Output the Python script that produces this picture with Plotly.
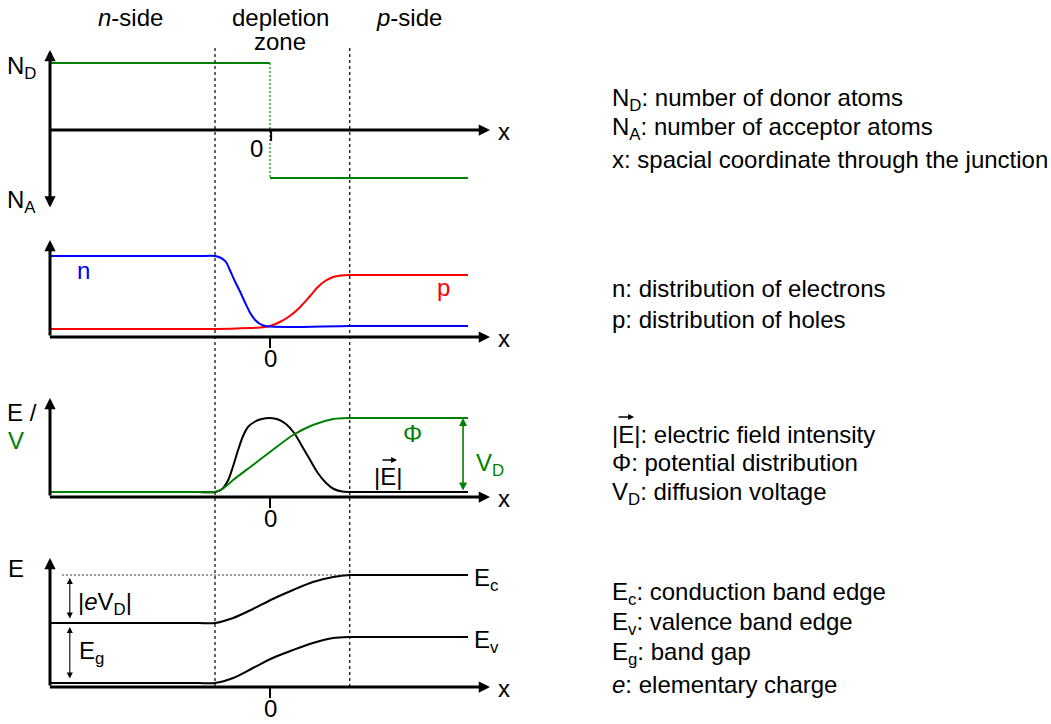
import plotly.graph_objects as go

W, H = 1051, 724

# ---- junction coordinate (0 = junction); depletion zone edges ----
X_START, X_END = -4.0, 3.6
X_N_EDGE, X_P_EDGE = -1.0, 1.45

# ---- panel 1: doping profile ----
N_D_level = 1.34
N_A_level = -0.96

# ---- panel 2: carrier distributions ----
n_x = [-4.0, -2.5, -1.3, -1.0, -0.89, -0.8, -0.73, -0.64, -0.55, -0.45, -0.36, -0.27, -0.18,
       -0.09, 0.0, 0.4, 1.45, 2.5, 3.6]
n_y = [1.62, 1.62, 1.62, 1.62, 1.58, 1.50, 1.34, 1.12, 0.92, 0.68, 0.48, 0.34, 0.26,
       0.22, 0.21, 0.20, 0.22, 0.22, 0.22]
p_x = [-4.0, -2.5, -1.0, -0.36, -0.18, 0.0, 0.18, 0.36, 0.55, 0.73, 0.87, 1.0, 1.15, 1.29,
       1.45, 1.75, 2.5, 3.6]
p_y = [0.16, 0.16, 0.16, 0.18, 0.19, 0.22, 0.30, 0.42, 0.60, 0.82, 1.00, 1.12, 1.20, 1.23,
       1.24, 1.24, 1.24, 1.24]

# ---- panel 3: field magnitude and potential ----
e_x = [-1.3, -1.0, -0.87, -0.76, -0.67, -0.58, -0.49, -0.4, -0.27, -0.15, 0.0, 0.15, 0.29,
       0.44, 0.58, 0.73, 0.87, 1.02, 1.16, 1.31, 1.45, 1.75, 2.5, 3.6]
e_y = [0.10, 0.10, 0.16, 0.34, 0.62, 0.94, 1.22, 1.40, 1.51, 1.56, 1.58, 1.55, 1.46,
       1.28, 1.02, 0.74, 0.48, 0.28, 0.16, 0.11, 0.10, 0.10, 0.10, 0.10]
phi_x = [-4.0, -2.5, -1.3, -1.0, -0.87, -0.67, -0.31, 0.0, 0.42, 0.78, 1.15, 1.45, 1.75, 2.5, 3.6]
phi_y = [0.10, 0.10, 0.10, 0.10, 0.16, 0.34, 0.64, 0.90, 1.24, 1.44, 1.56, 1.58, 1.58, 1.58, 1.58]
V_D_top, V_D_bottom = 1.58, 0.10

# ---- panel 4: band edges ----
band_x = [-4.0, -2.5, -1.3, -1.0, -0.67, -0.31, 0.05, 0.42, 0.78, 1.15, 1.45, 1.75, 2.5, 3.6]
Ec_y = [1.28, 1.28, 1.28, 1.28, 1.38, 1.56, 1.76, 1.94, 2.10, 2.20, 2.24, 2.24, 2.24, 2.24]
Ev_y = [0.08, 0.08, 0.08, 0.08, 0.18, 0.38, 0.58, 0.74, 0.88, 0.98, 1.00, 1.00, 1.00, 1.00]

# side texts
header_labels = ["<i>n</i>-side", "depletion", "zone", "<i>p</i>-side"]
legend_lines = [
    ("N<sub>D</sub>: number of donor atoms", 99),
    ("N<sub>A</sub>: number of acceptor atoms", 129),
    ("x: spacial coordinate through the junction", 159),
    ("n: distribution of electrons", 288),
    ("p: distribution of holes", 319),
    ("|E|: electric field intensity", 434),
    ("Φ: potential distribution", 463),
    ("V<sub>D</sub>: diffusion voltage", 493),
    ("E<sub>c</sub>: conduction band edge", 593),
    ("E<sub>v</sub>: valence band edge", 623),
    ("E<sub>g</sub>: band gap", 653),
    ("<i>e</i>: elementary charge", 684),
]

# ---- layout geometry (pixels) ----
X0_PX, X_SCALE = 270.0, 55.0          # junction position, px per unit
Y_SCALE = 50.0                        # px per unit on every panel
baselines = [130, 337, 497, 687]      # x-axis pixel row of each panel

GREEN, BLUE, RED, BLACK = "#008000", "#0000ff", "#ff0000", "#000000"
FONT = "Liberation Sans"
FS = 24

fig = go.Figure()

layout_axes = {}
for i, b in enumerate(baselines):
    key = "yaxis" if i == 0 else f"yaxis{i + 1}"
    ax = dict(range=[(b - H) / Y_SCALE, b / Y_SCALE], domain=[0, 1], visible=False,
              fixedrange=True)
    if i > 0:
        ax["overlaying"] = "y"
    layout_axes[key] = ax

x_range = [-X0_PX / X_SCALE, (W - X0_PX) / X_SCALE]


def line(xs, ys, yref, color, width=2.0, dash=None, shape="spline"):
    fig.add_trace(go.Scatter(
        x=xs, y=ys, xaxis="x", yaxis=yref, mode="lines",
        line=dict(color=color, width=width, dash=dash, shape=shape, smoothing=0.8),
        hoverinfo="skip", showlegend=False, cliponaxis=False))


annotations = []


def arrow(x0, y0, x1, y1, yref, color=BLACK, width=3.0, size=0.75, both=False, head=2):
    annotations.append(dict(
        x=x1, y=y1, ax=x0, ay=y0, xref="x", yref=yref, axref="x", ayref=yref,
        text="", showarrow=True, arrowhead=head, startarrowhead=head,
        arrowsize=size, startarrowsize=size, arrowwidth=width, arrowcolor=color,
        arrowside="end+start" if both else "end"))


def label(text, x_px, y_px, color=BLACK, size=FS, xanchor="center"):
    annotations.append(dict(
        text=text, x=x_px / W, y=1 - y_px / H, xref="paper", yref="paper",
        xanchor=xanchor, yanchor="middle", showarrow=False,
        font=dict(family=FONT, size=size, color=color)))


# depletion zone boundaries through all panels
for xe in (X_N_EDGE, X_P_EDGE):
    fig.add_shape(type="line", xref="x", yref="paper", x0=xe, x1=xe,
                  y0=1 - 687 / H, y1=1 - 45 / H,
                  line=dict(color=BLACK, width=1.2, dash="3px,3px"))

# ---- panel 1 ----
line([X_START, 0.0], [N_D_level, N_D_level], "y", GREEN, shape="linear")
line([0.0, 0.0], [N_D_level, N_A_level], "y", GREEN, width=1.2, dash="2px,2px", shape="linear")
line([0.0, X_END], [N_A_level, N_A_level], "y", GREEN, shape="linear")
arrow(X_START, -1.58, X_START, 1.6, "y", both=True)
arrow(X_START - 0.03, 0, 4.0, 0, "y")
line([0.02, 0.02], [0, -0.22], "y", BLACK, width=2, shape="linear")

# ---- panel 2 ----
line(p_x, p_y, "y2", RED)
line(n_x, n_y, "y2", BLUE)
arrow(X_START, 0, X_START, 1.94, "y2")
arrow(X_START - 0.03, 0, 4.0, 0, "y2")
line([0, 0], [0, -0.22], "y2", BLACK, width=2, shape="linear")

# ---- panel 3 ----
line(e_x, e_y, "y3", BLACK)
line(phi_x, phi_y, "y3", GREEN)
arrow(3.51, V_D_bottom, 3.51, V_D_top, "y3", color=GREEN, width=1.6, size=1.0, both=True)
arrow(X_START, 0, X_START, 1.98, "y3")
arrow(X_START - 0.03, 0, 4.0, 0, "y3")
line([0, 0], [0, -0.22], "y3", BLACK, width=2, shape="linear")

# ---- panel 4 ----
fig.add_shape(type="line", xref="x", yref="y4", x0=-3.78, x1=X_P_EDGE,
              y0=Ec_y[-1], y1=Ec_y[-1], line=dict(color="#333333", width=1, dash="2px,2px"))
line(band_x, Ec_y, "y4", BLACK)
line(band_x, Ev_y, "y4", BLACK)
arrow(-3.64, 1.34, -3.64, 2.18, "y4", width=1.1, size=1.1, both=True)
arrow(-3.64, 0.14, -3.64, 1.20, "y4", width=1.1, size=1.1, both=True)
arrow(X_START, 0, X_START, 2.58, "y4")
arrow(X_START - 0.03, 0, 4.0, 0, "y4")
line([0, 0], [0, -0.22], "y4", BLACK, width=2, shape="linear")

# ---- diagram labels ----
label(header_labels[0], 130, 17)
label(header_labels[1], 280, 17)
label(header_labels[2], 280, 41)
label(header_labels[3], 409, 17)

label("N<sub>D</sub>", 38, 67, xanchor="right")
label("N<sub>A</sub>", 38, 201, xanchor="right")
for b, zx in zip(baselines, [256, 270, 270, 270]):
    label("0", zx, b + 21 if b != 130 else 148)
    label("x", 504, b + 1)

label("n", 83, 270, color=BLUE)
label("p", 443, 287, color=RED)

label("E /", 22, 412)
label("V", 16, 440, color=GREEN)
label("Φ", 412, 433, color=GREEN)
label("V<sub>D</sub>", 474, 464, color=GREEN, xanchor="left")
label("|E|", 388, 476)
annotations.append(dict(x=397 / W, y=1 - 460 / H, xref="paper", yref="paper",
                        ax=-16, ay=0, text="", showarrow=True, arrowhead=2,
                        arrowsize=0.9, arrowwidth=1.3, arrowcolor=BLACK))

label("E", 16, 568)
label("|<i>e</i>V<sub>D</sub>|", 76, 603, xanchor="left")
label("E<sub>g</sub>", 77, 652, xanchor="left")
label("E<sub>c</sub>", 472, 579, xanchor="left")
label("E<sub>v</sub>", 472, 641, xanchor="left")

# ---- explanation column ----
for txt, yp in legend_lines:
    label(txt, 610, yp, xanchor="left")
annotations.append(dict(x=634 / W, y=1 - 417 / H, xref="paper", yref="paper",
                        ax=-17, ay=0, text="", showarrow=True, arrowhead=2,
                        arrowsize=0.9, arrowwidth=1.3, arrowcolor=BLACK))

fig.update_layout(
    width=W, height=H,
    margin=dict(l=0, r=0, t=0, b=0, pad=0),
    paper_bgcolor="white", plot_bgcolor="white",
    xaxis=dict(range=x_range, domain=[0, 1], visible=False, fixedrange=True),
    annotations=annotations,
    showlegend=False,
    **layout_axes,
)

fig.write_html("out.html", config={"displayModeBar": False})
